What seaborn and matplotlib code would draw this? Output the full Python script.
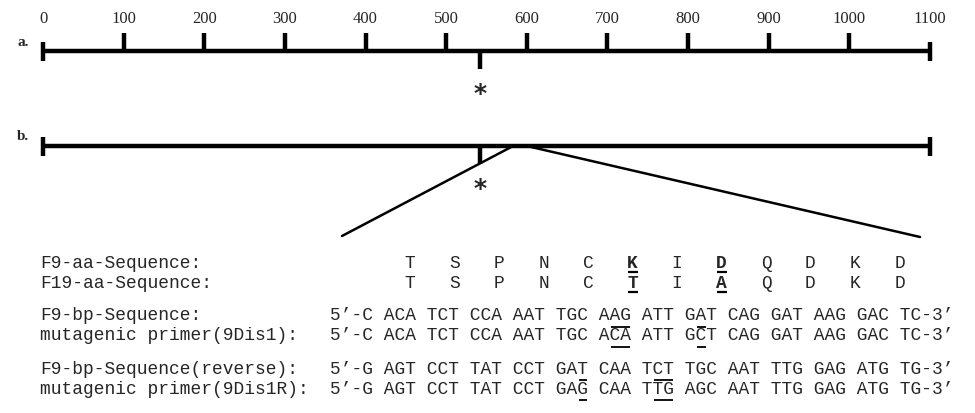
import numpy as np
import matplotlib
matplotlib.use('Agg')
import matplotlib.pyplot as plt
import seaborn as sns

# scale bar (bp)
scale_ticks = [0, 100, 200, 300, 400, 500, 600, 700, 800, 900, 1000, 1100]
mut_site = 542
zoom_left, zoom_right = 583, 600

# amino acid rows
aa_labels = ['F9-aa-Sequence:', 'F19-aa-Sequence:']
aa_f9 = ['T', 'S', 'P', 'N', 'C', 'K', 'I', 'D', 'Q', 'D', 'K', 'D']
aa_f19 = ['T', 'S', 'P', 'N', 'C', 'T', 'I', 'A', 'Q', 'D', 'K', 'D']
aa_marked = [5, 7]

# nucleotide rows
bp_labels = ['F9-bp-Sequence:', 'mutagenic primer(9Dis1):',
             'F9-bp-Sequence(reverse):', 'mutagenic primer(9Dis1R):']
bp_heads = ['5\u2019-C', '5\u2019-C', '5\u2019-G', '5\u2019-G']
bp_tails = ['TC-3\u2019', 'TC-3\u2019', 'TG-3\u2019', 'TG-3\u2019']
codons_f9 = ['ACA', 'TCT', 'CCA', 'AAT', 'TGC', 'AAG', 'ATT', 'GAT', 'CAG', 'GAT', 'AAG', 'GAC']
codons_9dis1 = ['ACA', 'TCT', 'CCA', 'AAT', 'TGC', 'ACA', 'ATT', 'GCT', 'CAG', 'GAT', 'AAG', 'GAC']
codons_f9r = ['AGT', 'CCT', 'TAT', 'CCT', 'GAT', 'CAA', 'TCT', 'TGC', 'AAT', 'TTG', 'GAG', 'ATG']
codons_9dis1r = ['AGT', 'CCT', 'TAT', 'CCT', 'GAG', 'CAA', 'TTG', 'AGC', 'AAT', 'TTG', 'GAG', 'ATG']
# (codon index, first char, last char) underlined
marks_fwd = [(5, 1, 2), (7, 1, 1)]
marks_rev = [(4, 2, 2), (6, 1, 2)]

sns.set_theme(style='white')
plt.rcParams['font.family'] = ['Liberation Serif', 'DejaVu Serif']

W, H = 975, 413
fig = plt.figure(figsize=(W / 100, H / 100), dpi=100)

# pixel axes for text part
ax = fig.add_axes([0, 0, 1, 1])
ax.set_xlim(0, W)
ax.set_ylim(H, 0)
ax.axis('off')

# bp axes for the map
x0_px, x1_px = 43, 930
k = 1100 / (x1_px - x0_px)
axm = fig.add_axes([0, 0, 1, 1])
axm.patch.set_alpha(0)

def px_to_bp(px):
    return (px - x0_px) * k

ya, yb = 51, 146
lw_main = 3.2
for y in [ya, yb]:
    axm.hlines(y, 0, 1100, color='black', lw=lw_main)
    axm.vlines([0, 1100], y - 9, y + 10, color='black', lw=lw_main)
    axm.vlines(mut_site, y, y + 18, color='black', lw=lw_main)
    axm.text(mut_site, y + 43, '*', fontsize=18, ha='center', va='center',
             family='DejaVu Sans', weight='bold')

axm.vlines(scale_ticks[1:-1], ya - 18, ya, color='black', lw=lw_main)
for t in scale_ticks:
    axm.text(t, 19, str(t), fontsize=12, ha='center', va='center')

ax.text(17, 43, 'a.', fontsize=11, ha='left', va='center', weight='bold')
ax.text(17, 136, 'b.', fontsize=11, ha='left', va='center', weight='bold')

# zoom lines
sns.lineplot(x=[px_to_bp(342), zoom_left], y=[236, yb], color='black', lw=1.8, ax=axm)
sns.lineplot(x=[zoom_right, px_to_bp(920)], y=[yb, 237], color='black', lw=1.8, ax=axm)
axm.set_xlim(-x0_px * k, 1100 + (W - x1_px) * k)
axm.set_ylim(H, 0)
axm.axis('off')

# monospace text block
cw = 10.75
fs = cw / 0.6 * 72 / 100
mono = 'Liberation Mono'
lab_x = 40
seq_x = lab_x + 27 * cw

aa_y = [263, 283]
for lab, y, aa in zip(aa_labels, aa_y, [aa_f9, aa_f19]):
    ax.text(lab_x, y, lab, family=mono, fontsize=fs, ha='left', va='center')
    for i, a in enumerate(aa):
        xc = 410 + i * 44.5
        bold = i in aa_marked
        ax.text(xc, y, a, family=mono, fontsize=fs, ha='center', va='center',
                weight='bold' if bold else 'normal')
        if bold:
            ax.hlines(y + 9, xc - 5, xc + 5, color='black', lw=1.6)

bp_y = [316, 336, 369, 389]
rows = [codons_f9, codons_9dis1, codons_f9r, codons_9dis1r]
row_marks = [marks_fwd, marks_fwd, marks_rev, marks_rev]
for lab, y, head, cods, tail, marks in zip(bp_labels, bp_y, bp_heads, rows, bp_tails, row_marks):
    ax.text(lab_x, y, lab, family=mono, fontsize=fs, ha='left', va='center')
    line = head + ' ' + ' '.join(cods) + ' ' + tail
    ax.text(seq_x, y, line, family=mono, fontsize=fs, ha='left', va='center')
    for ci, c0, c1 in marks:
        col = len(head) + 1 + 4 * ci
        xa = seq_x + (col + c0) * cw + 1
        xb = seq_x + (col + c1 + 1) * cw - 1
        ax.hlines(y + 10.5, xa, xb, color='black', lw=1.3)

fig.savefig('out.png', dpi=100)
